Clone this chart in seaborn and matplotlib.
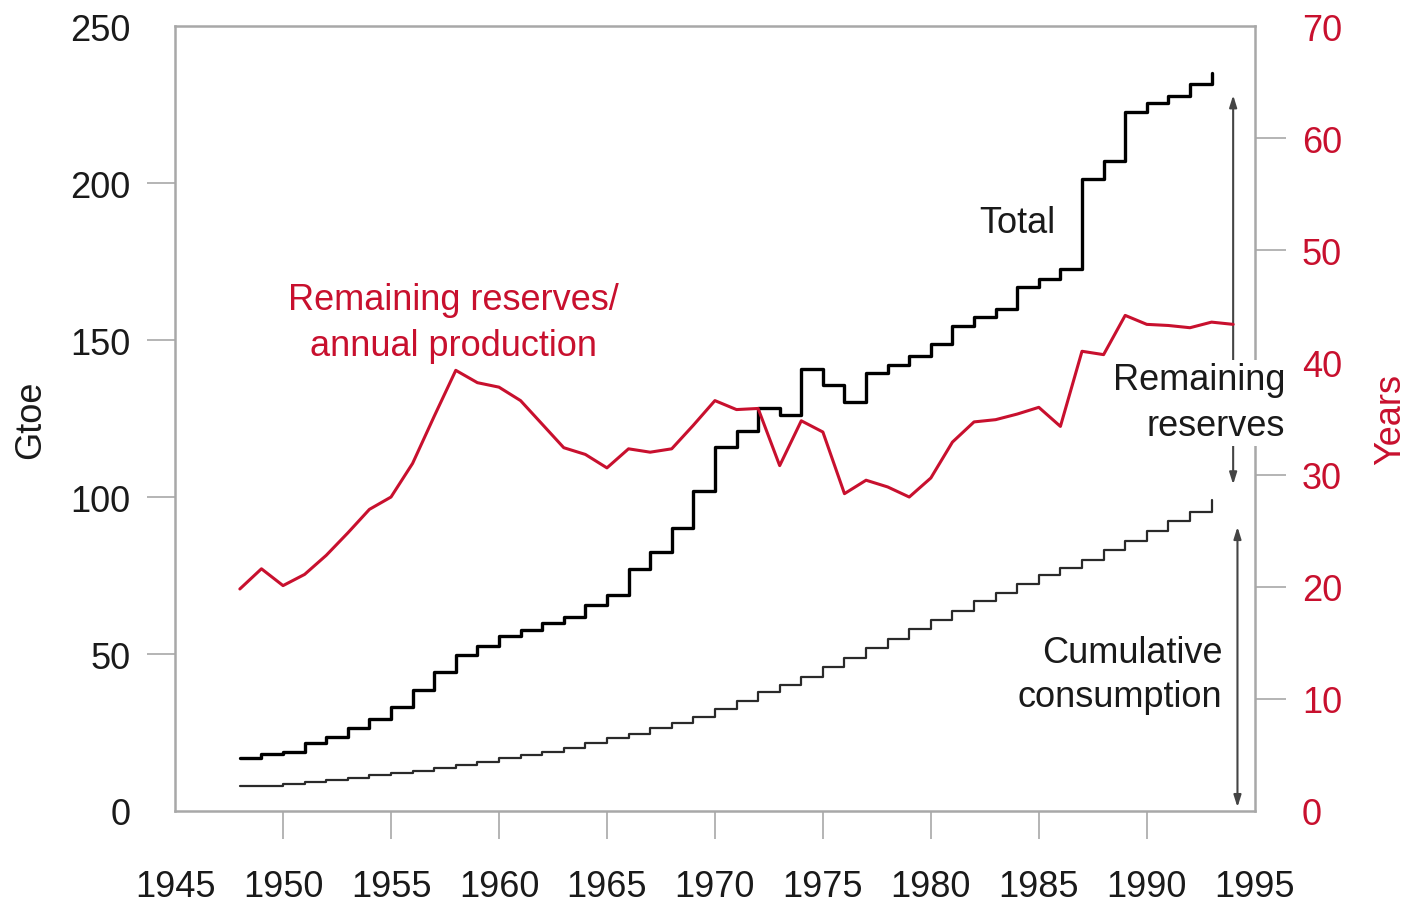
import pandas as pd
import matplotlib
matplotlib.use("Agg")
import matplotlib.pyplot as plt
import seaborn as sns

# data
years = list(range(1948, 1994))
total = [16.8, 18.0, 18.9, 21.5, 23.6, 26.4, 29.4, 33.0, 38.6, 44.2,
         49.8, 52.4, 55.8, 57.7, 60.0, 61.8, 65.5, 68.7, 77.0, 82.5,
         90.1, 102.0, 116.0, 121.0, 128.5, 126.0, 140.8, 135.8, 130.2, 139.4,
         142.0, 145.0, 148.8, 154.5, 157.5, 160.0, 167.0, 169.5, 172.5, 201.3,
         206.9, 222.5, 225.5, 227.6, 231.5, 235.0]
cumulative = [7.8, 7.9, 8.6, 9.2, 10.0, 10.5, 11.3, 12.1, 12.8, 13.6,
              14.7, 15.7, 16.8, 17.8, 18.9, 20.1, 21.5, 23.3, 24.6, 26.4,
              28.1, 30.0, 32.5, 35.0, 37.8, 40.2, 42.8, 45.8, 48.7, 51.8,
              54.9, 57.9, 60.8, 63.8, 66.8, 69.4, 72.2, 75.1, 77.5, 80.1,
              83.1, 86.0, 89.2, 92.4, 95.2, 99.0]
ratio_years = list(range(1948, 1995))
ratio = [19.8, 21.6, 20.1, 21.1, 22.8, 24.8, 26.9, 28.0, 31.0, 35.2,
         39.3, 38.2, 37.8, 36.6, 34.5, 32.4, 31.8, 30.6, 32.3, 32.0,
         32.3, 34.4, 36.6, 35.8, 35.9, 30.8, 34.8, 33.8, 28.3, 29.5,
         28.9, 28.0, 29.7, 32.9, 34.7, 34.9, 35.4, 36.0, 34.3, 41.0,
         40.7, 44.2, 43.4, 43.3, 43.1, 43.6, 43.4]

x_ticks = list(range(1945, 2000, 5))
gtoe_ticks = [0, 50, 100, 150, 200, 250]
years_ticks = [0, 10, 20, 30, 40, 50, 60, 70]

RED = "#c8102e"
GRAY = "#a8a8a8"
TXT = "#1a1a1a"
FS = 26

sns.set_style("white")
plt.rcParams["font.family"] = ["Liberation Sans", "DejaVu Sans"]

df = pd.DataFrame({"year": years, "total": total, "cumulative": cumulative})
df_r = pd.DataFrame({"year": ratio_years, "ratio": ratio})

fig = plt.figure(figsize=(14.13, 9.04), dpi=100)
ax = fig.add_axes([0.1239, 0.1018, 0.888 - 0.1239, 0.970 - 0.1018])
ax2 = ax.twinx()

sns.lineplot(data=df, x="year", y="total", ax=ax, color="black",
             lw=2.4, drawstyle="steps-post")
sns.lineplot(data=df, x="year", y="cumulative", ax=ax, color="#2a2a2a",
             lw=1.6, drawstyle="steps-post")
sns.lineplot(data=df_r, x="year", y="ratio", ax=ax2, color=RED, lw=2.2)

ax.set_xlim(1945, 1995)
ax.set_ylim(0, 250)
ax2.set_ylim(0, 70)
ax.set_xticks(x_ticks)
ax.set_yticks(gtoe_ticks)
ax2.set_yticks(years_ticks)

for a in (ax, ax2):
    for s in a.spines.values():
        s.set_color(GRAY)
        s.set_linewidth(1.8)
ax.spines["right"].set_visible(False)
ax2.spines["left"].set_visible(False)
ax2.spines["top"].set_visible(False)
ax2.spines["bottom"].set_visible(False)

ax.tick_params(axis="x", direction="out", length=20, width=1.2, color=GRAY,
               labelsize=FS, labelcolor=TXT, pad=22, bottom=True)
ax.tick_params(axis="y", direction="out", length=20, width=1.2, color=GRAY,
               labelsize=FS, labelcolor=TXT, pad=12, left=True)
ax2.tick_params(axis="y", direction="out", length=22, width=1.2, color=GRAY,
                labelsize=FS, labelcolor=RED, pad=12, right=True)

# end ticks are not drawn, only their labels
for tk in (ax.xaxis.get_major_ticks()[0], ax.xaxis.get_major_ticks()[-1],
           ax.yaxis.get_major_ticks()[0], ax.yaxis.get_major_ticks()[-1]):
    tk.tick1line.set_visible(False)
for tk in (ax2.yaxis.get_major_ticks()[0], ax2.yaxis.get_major_ticks()[-1]):
    tk.tick2line.set_visible(False)

ax.set_xlabel("")
ax.set_ylabel("Gtoe", fontsize=FS, color=TXT, labelpad=16)
ax2.set_ylabel("Years", fontsize=FS, color=RED, labelpad=22)

# annotations
ax.text(1984.0, 187.5, "Total", fontsize=FS, color=TXT, ha="center", va="center")
ax.text(1957.9, 155.5, "Remaining reserves/\nannual production", fontsize=FS,
        color=RED, ha="center", va="center", linespacing=1.4)
ax.text(1993.5, 43.5, "Cumulative\nconsumption", fontsize=FS, color=TXT,
        ha="right", va="center", linespacing=1.35)

arrow = dict(arrowstyle="<|-|>,head_length=0.7,head_width=0.22", color="#444444",
             lw=1.5, shrinkA=0, shrinkB=0)
ax.annotate("", xy=(1994.0, 228.0), xytext=(1994.0, 104.0), arrowprops=arrow,
            annotation_clip=False)
ax.annotate("", xy=(1994.2, 90.5), xytext=(1994.2, 1.2), arrowprops=arrow,
            annotation_clip=False)
ax2.text(1996.4, 36.4, "Remaining\nreserves", fontsize=FS, color=TXT,
         ha="right", va="center", linespacing=1.4, zorder=10, clip_on=False,
         bbox=dict(facecolor="white", edgecolor="none", pad=2))

fig.savefig("out.png", dpi=100)
